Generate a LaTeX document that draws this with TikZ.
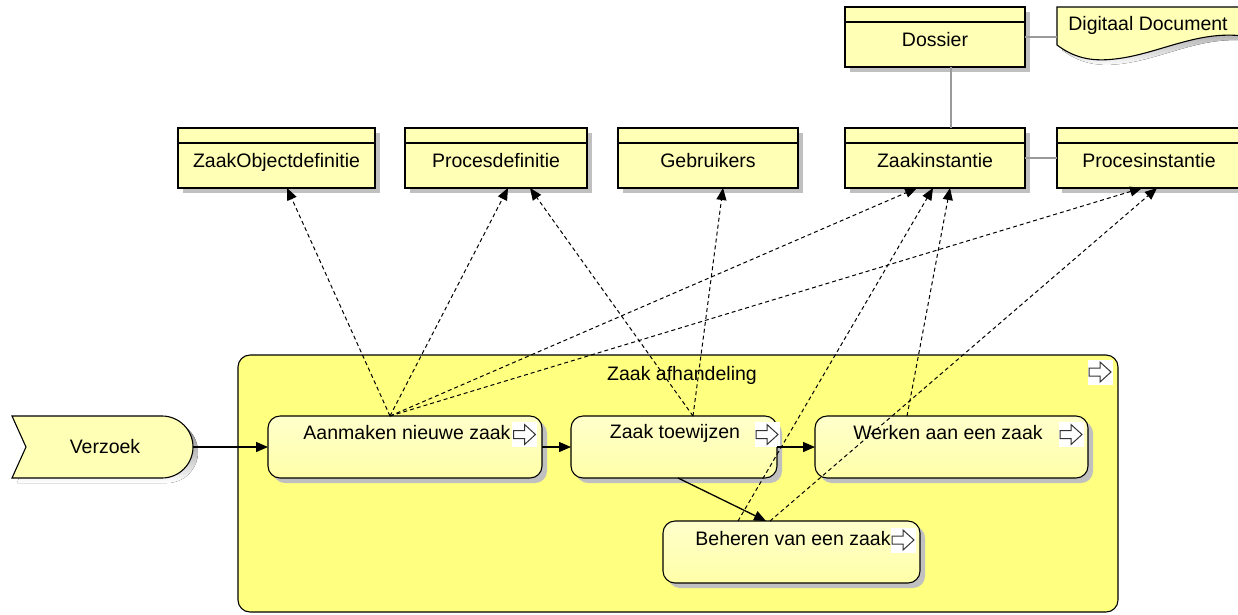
\documentclass[tikz,border=0pt]{standalone}
\usepackage{fontspec}
\setmainfont{Liberation Sans}
\usetikzlibrary{arrows.meta,shadows,calc}

\definecolor{classfill}{HTML}{FFFFB5}
\definecolor{groupfill}{HTML}{FFFF80}
\definecolor{proctop}{HTML}{FFFFCC}
\definecolor{procbot}{HTML}{FFFFA8}
\definecolor{shade}{HTML}{C0C0C0}
\definecolor{assoc}{HTML}{9A9A9A}
\definecolor{iconline}{HTML}{333333}

\tikzset{
  base/.style={font=\fontsize{19.5}{23}\selectfont, inner sep=0pt, outer sep=0pt},
  boxshadow/.style={drop shadow={shadow xshift=5pt, shadow yshift=-5pt, fill=shade, opacity=1}},
  classbox/.style={base, draw, line width=1.1pt, fill=classfill, minimum height=60pt,
                   text height=19pt, text depth=0pt, boxshadow},
  groupbox/.style={base, draw, line width=1.1pt, fill=groupfill, rounded corners=12pt},
  procbox/.style={base, draw, line width=1.1pt, rounded corners=12pt, top color=proctop, bottom color=procbot, minimum height=62pt, boxshadow},
  lab/.style={base},
  flow/.style={line width=1.3pt, -{Triangle[length=12pt,width=10pt]}},
  uses/.style={line width=1pt, dash pattern=on 4pt off 3pt, -{Triangle[length=12pt,width=10pt]}},
  link/.style={assoc, line width=1.4pt},
  flowicon/.pic={
    \fill[white] (-12.5,-12.5) rectangle (12.5,12.5);
    \draw[iconline, line width=1pt, line join=miter]
      (-11,-4) -- (0,-4) -- (0,-10) -- (11,0) -- (0,10) -- (0,4) -- (-11,4) -- cycle;
  }
}

\def\docoutline{(1057,7) -- (1250,7) -- (1250,37) .. controls (1200,28) and (1160,54) .. (1115,59) .. controls (1090,62) and (1073,57) .. (1057,45) -- cycle}
\def\eventoutline{(12,416) -- (162,416) .. controls (179.1,416) and (193,429.9) .. (193,447)
  .. controls (193,464.1) and (179.1,478) .. (162,478) -- (12,478) -- (26,447) -- cycle}

\begin{document}
\begin{tikzpicture}[x=1pt, y=-1pt]
\useasboundingbox (0,0) rectangle (1238,614);

% ---- information objects ----
\node[classbox, minimum width=197pt] (ZO) at (276.5,158) {ZaakObjectdefinitie};
\node[classbox, minimum width=182pt] (PD) at (496,158) {Procesdefinitie};
\node[classbox, minimum width=180pt] (GB) at (708,158) {Gebruikers};
\node[classbox, minimum width=180pt] (ZI) at (935,158) {Zaakinstantie};
\node[classbox, minimum width=184pt] (PI) at (1149,158) {Procesinstantie};
\node[classbox, minimum width=180pt] (DS) at (935,37) {Dossier};
\foreach \n in {ZO,PD,GB,ZI,PI,DS}
  \draw[line width=1.1pt] ([yshift=-15pt]\n.north west) -- ([yshift=-15pt]\n.north east);

% document shape
\fill[shade, xshift=5pt, yshift=-5pt] \docoutline;
\draw[line width=1.1pt, fill=classfill] \docoutline;
\node[lab] (DD) at (1148,25) {Digitaal Document};
\coordinate (DDleft) at (1057,37);

% associations
\draw[link] (DS.east) -- (DDleft);
\draw[link] ([xshift=106pt]DS.south west) -- ([xshift=106pt]ZI.north west);
\draw[link] (ZI.east) -- (PI.west);

% ---- process group ----
\node[groupbox, minimum width=880pt, minimum height=257pt] (C) at (678,483.5) {};
\node[lab] (Clab) at (682,375) {Zaak afhandeling};
\pic at (1100,372) {flowicon};

% sub-processes
\node[procbox, minimum width=274pt] (A) at (405,447) {};
\node[procbox, minimum width=206pt] (T) at (674,447) {};
\node[procbox, minimum width=273pt] (W) at (951.5,447) {};
\node[procbox, minimum width=257pt] (B) at (791.5,552) {};
\node[lab] (Alab) at (407,433) {Aanmaken nieuwe zaak};
\node[lab] (Tlab) at (675,433) {Zaak toewijzen};
\node[lab] (Wlab) at (948,433) {Werken aan een zaak};
\node[lab] (Blab) at (793,539) {Beheren van een zaak};
\pic at (524.5,434.5) {flowicon};
\pic at (767,434.5) {flowicon};
\pic at (1071,434.5) {flowicon};
\pic at (903,540) {flowicon};

% trigger event
\fill[shade, xshift=5pt, yshift=-5pt] \eventoutline;
\draw[line width=1.1pt, fill=classfill] \eventoutline;
\node[lab, minimum width=181pt, minimum height=62pt] (V) at (102.5,447) {};
\node[lab] (Vlab) at (105,447) {Verzoek};

% ---- flow ----
\draw[flow] (V.east) -- (A.west);
\draw[flow] (A.east) -- (T.west);
\draw[flow] (T.east) -- (W.west);
\draw[flow] ([xshift=107pt]T.south west) -- ([xshift=103pt]B.north west);

% ---- access relations ----
\draw[uses] ([xshift=122pt]A.north west) -- ([xshift=109pt]ZO.south west);
\draw[uses] ([xshift=122pt]A.north west) -- ([xshift=103pt]PD.south west);
\draw[uses] ([xshift=122pt]A.north west) -- ([xshift=72pt]ZI.south west);
\draw[uses] ([xshift=122pt]A.north west) -- ([xshift=85pt]PI.south west);
\draw[uses] ([xshift=122pt]T.north west) -- ([xshift=125pt]PD.south west);
\draw[uses] ([xshift=122pt]T.north west) -- ([xshift=105pt]GB.south west);
\draw[uses] ([xshift=75pt]B.north west) -- ([xshift=88pt]ZI.south west);
\draw[uses] ([xshift=107pt]B.north west) -- ([xshift=100pt]PI.south west);
\draw[uses] ([xshift=92pt]W.north west) -- ([xshift=105pt]ZI.south west);
\end{tikzpicture}
\end{document}
